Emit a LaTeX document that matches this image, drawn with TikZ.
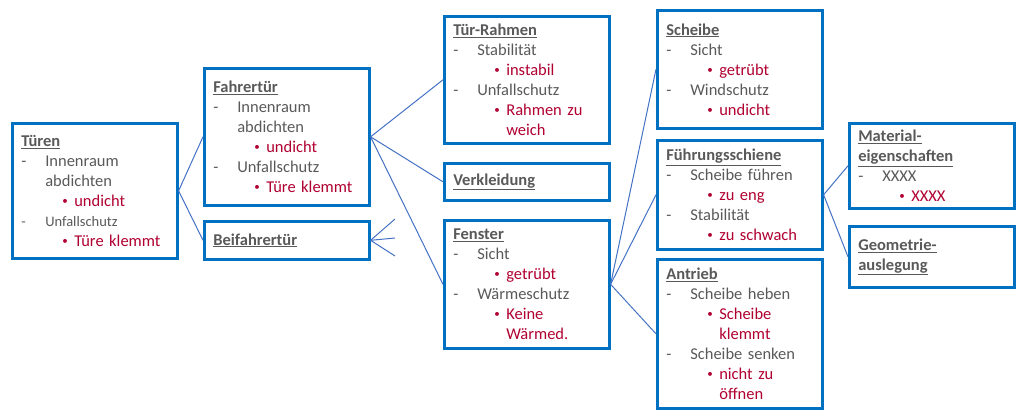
\documentclass[tikz,border=0pt]{standalone}
\usepackage{fontspec}
\setmainfont{Carlito}
\usepackage{xcolor}
\usepackage{tikz}
\usetikzlibrary{positioning}
\definecolor{boxblue}{HTML}{0070C0}
\definecolor{linkblue}{HTML}{4472C4}
\definecolor{txtgray}{HTML}{595959}
\definecolor{errred}{HTML}{B00030}
\newcommand{\hd}[1]{\textbf{\underline{#1}}}
\newcommand{\dsh}[1]{\makebox[24pt][l]{-}#1}
\newcommand{\dcont}[1]{\hspace*{24pt}#1}
\newcommand{\blt}[1]{\hspace*{41pt}\makebox[12pt][l]{\color{errred}\raisebox{0.25ex}{\fontsize{11}{11}\selectfont\textbullet}}{\color{errred}#1}}
\newcommand{\bcont}[1]{\hspace*{53pt}{\color{errred}#1}}
\begin{document}
\begin{tikzpicture}[
x=1pt, y=-1pt,
MyBox/.style={draw=boxblue, line width=2.6pt, text width=147pt, inner xsep=9pt, inner ysep=0pt,
  align=left, anchor=north west, text=txtgray, font=\fontsize{16.5}{20}\selectfont},
Links/.style={draw=linkblue, line width=1pt},
]

\useasboundingbox (0,0) rectangle (1023,416);

% first level
\node[MyBox, minimum height=135pt] (Tueren) at (11,122) {\hd{Türen}\\ \dsh{Innenraum}\\ \dcont{abdichten}\\
  \blt{undicht}\\ {\fontsize{14.5}{20}\selectfont\dsh{Unfallschutz}}\\ \blt{Türe klemmt}};

% second level
\node[MyBox, minimum height=137pt] (Fahrer) at (203,67) {\hd{Fahrertür}\\ \dsh{Innenraum}\\ \dcont{abdichten}\\
  \blt{undicht}\\ \dsh{Unfallschutz}\\ \blt{Türe klemmt}};
\node[MyBox, minimum height=38pt] (Beifahrer) at (203,220) {\hd{Beifahrertür}};

% third level
\node[MyBox, minimum height=127pt] (Rahmen) at (443,15) {\hd{Tür-Rahmen}\\ \dsh{Stabilität}\\ \blt{instabil}\\
  \dsh{Unfallschutz}\\ \blt{Rahmen zu}\\ \bcont{weich}};
\node[MyBox, minimum height=37pt] (Verkleidung) at (443,162) {\hd{Verkleidung}};
\node[MyBox, minimum height=128pt] (Fenster) at (443,219) {\hd{Fenster}\\ \dsh{Sicht}\\ \blt{getrübt}\\
  \dsh{Wärmeschutz}\\ \blt{Keine}\\ \bcont{Wärmed.}};

% fourth level
\node[MyBox, minimum height=118pt] (Scheibe) at (656,9) {\hd{Scheibe}\\ \dsh{Sicht}\\ \blt{getrübt}\\
  \dsh{Windschutz}\\ \blt{undicht}};
\node[MyBox, minimum height=109pt] (Schiene) at (656,139) {\hd{Führungsschiene}\\ \dsh{Scheibe führen}\\ \blt{zu eng}\\
  \dsh{Stabilität}\\ \blt{zu schwach}};
\node[MyBox, minimum height=149pt] (Antrieb) at (656,258) {\hd{Antrieb}\\ \dsh{Scheibe heben}\\ \blt{Scheibe}\\
  \bcont{klemmt}\\ \dsh{Scheibe senken}\\ \blt{nicht zu}\\ \bcont{öffnen}};

% fifth level
\node[MyBox, minimum height=85pt] (Material) at (848,122) {\hd{Material-}\\ \hd{eigenschaften}\\ \dsh{XXXX}\\ \blt{XXXX}};
\node[MyBox, minimum height=61pt] (Geometrie) at (848,225) {\hd{Geometrie-}\\ \hd{auslegung}};

% free ends on the right of Beifahrertuer
\coordinate (BfA) at (395,219);
\coordinate (BfB) at (395,238);
\coordinate (BfC) at (395,256);

% connectors
\draw[Links] (Tueren.east) -- (Fahrer.west);
\draw[Links] (Tueren.east) -- (Beifahrer.west);
\draw[Links] (Fahrer.east) -- (Rahmen.west);
\draw[Links] (Fahrer.east) -- (Verkleidung.west);
\draw[Links] (Fahrer.east) -- (Fenster.west);
\draw[Links] (Beifahrer.east) -- (BfA);
\draw[Links] (Beifahrer.east) -- (BfB);
\draw[Links] (Beifahrer.east) -- (BfC);
\draw[Links] (Fenster.east) -- (Scheibe.west);
\draw[Links] (Fenster.east) -- (Schiene.west);
\draw[Links] (Fenster.east) -- (Antrieb.west);
\draw[Links] (Schiene.east) -- (Material.west);
\draw[Links] (Schiene.east) -- (Geometrie.west);

\end{tikzpicture}
\end{document}
